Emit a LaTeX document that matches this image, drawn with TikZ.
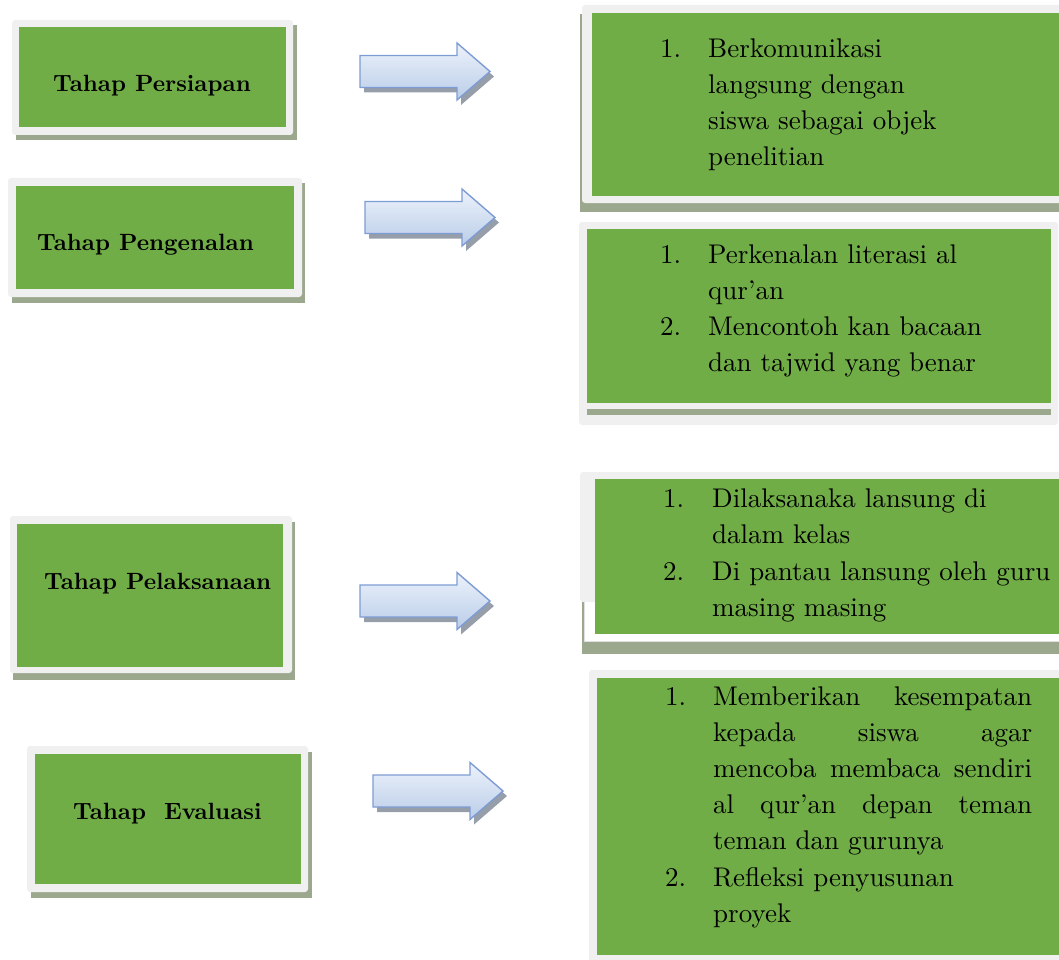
\documentclass[tikz,border=0pt]{standalone}
\usepackage{fontspec}
\setmainfont{lmroman10-regular.otf}[BoldFont=lmroman10-bold.otf]
\definecolor{boxgreen}{RGB}{112,173,71}
\definecolor{framegray}{RGB}{240,240,240}
\definecolor{shadowgreen}{RGB}{155,168,142}
\definecolor{arrowline}{RGB}{126,156,212}
\definecolor{arrowtop}{RGB}{236,242,251}
\definecolor{arrowbot}{RGB}{186,205,232}
\definecolor{arrowshadow}{RGB}{150,158,170}
\begin{document}
\begin{tikzpicture}[x=1pt,y=-1pt,
  greenbox/.style={fill=boxgreen, draw=none, inner sep=0pt, outer sep=0pt, anchor=north west},
  framebox/.style={fill=framegray, rounded corners=3pt},
  shadebox/.style={fill=shadowgreen},
  title/.style={font=\fontsize{23.5}{28}\selectfont\bfseries, anchor=base west, inner sep=0pt},
  body/.style={font=\fontsize{27}{36}\selectfont, anchor=base west, inner sep=0pt},
  blockarrow/.pic={
    \fill[arrowshadow, shift={(4,5)}] (0,-16) -- (97,-16) -- (97,-28.5) -- (130,0) -- (97,28.5) -- (97,16) -- (0,16) -- cycle;
    \draw[arrowline, line width=1.4pt, line join=miter, top color=arrowtop, bottom color=arrowbot]
      (0,-16) -- (97,-16) -- (97,-28.5) -- (130,0) -- (97,28.5) -- (97,16) -- (0,16) -- cycle;
  }
]
\useasboundingbox (0,0) rectangle (1059,960);
\begin{scope}
\clip (0,0) rectangle (1059,960);

% ---------- left boxes ----------
\fill[shadebox] (16,25) rectangle (297,140);
\fill[framebox] (12,20) rectangle (293,135);
\node[greenbox, minimum width=267pt, minimum height=100pt] (g1) at (19,27) {};
\node[title] (t1) at (53,92) {Tahap Persiapan};

\fill[shadebox] (12,183) rectangle (305,303);
\fill[framebox] (8,178) rectangle (302,297);
\node[greenbox, minimum width=278pt, minimum height=103pt] (g2) at (16,186) {};
\node[title] (t2) at (37,250) {Tahap Pengenalan};

\fill[shadebox] (13,522) rectangle (295,680);
\fill[framebox] (10,516) rectangle (292,673);
\node[greenbox, minimum width=266pt, minimum height=143pt] (g3) at (17,524) {};
\node[title] (t3) at (44,589) {Tahap Pelaksanaan};

\fill[shadebox] (31,752) rectangle (312,898);
\fill[framebox] (27,746) rectangle (308,892);
\node[greenbox, minimum width=266pt, minimum height=130pt] (g4) at (35,754) {};
\node[title] (t4) at (73,819) {Tahap~\ Evaluasi};

% ---------- arrows ----------
\pic (a1) at (360,71.5) {blockarrow};
\pic (a2) at (365,217.5) {blockarrow};
\pic (a3) at (360,601) {blockarrow};
\pic (a4) at (373,791) {blockarrow};

% ---------- right boxes ----------
\fill[shadebox] (580,14) rectangle (1070,212);
\fill[framebox] (582,5) rectangle (1070,203);
\node[greenbox, minimum width=480pt, minimum height=183pt] (r1) at (592,13) {};
\node[body] (r1t) at (660,58) {\begin{tabular}[t]{@{}l@{}}
\makebox[48pt][l]{1.}Berkomunikasi\\
\hspace*{48pt}langsung dengan\\
\hspace*{48pt}siswa sebagai objek\\
\hspace*{48pt}penelitian
\end{tabular}};

\fill[framebox] (579,222) rectangle (1058,425);
\node[greenbox, minimum width=464pt, minimum height=174pt] (r2) at (587,229) {};
\fill[shadebox] (587,409) rectangle (1051,415);
\node[body] (r2t) at (660,263) {\begin{tabular}[t]{@{}l@{}}
\makebox[48pt][l]{1.}Perkenalan literasi al\\
\hspace*{48pt}qur’an\\
\makebox[48pt][l]{2.}Mencontoh kan bacaan\\
\hspace*{48pt}dan tajwid yang benar
\end{tabular}};

\fill[shadebox] (582,560) rectangle (1070,654);
\filldraw[fill=white, draw=black!12] (584,560) rectangle (1070,641);
\fill[framebox] (580,472) rectangle (1070,602);
\node[greenbox, minimum width=475pt, minimum height=155pt] (r3) at (595,479) {};
\node[body, font=\fontsize{27}{36.6}\selectfont] (r3t) at (663,507) {\begin{tabular}[t]{@{}l@{}}
\makebox[49pt][l]{1.}Dilaksanaka lansung di\\
\hspace*{49pt}dalam kelas\\
\makebox[49pt][l]{2.}Di pantau lansung oleh guru\\
\hspace*{49pt}masing masing
\end{tabular}};

\fill[framebox] (589,670) rectangle (1075,975);
\node[greenbox, minimum width=480pt, minimum height=277pt] (r4) at (597,678) {};
\node[body, font=\fontsize{27}{36.2}\selectfont] (r4t) at (665,705) {\begin{tabular}[t]{@{}l@{}}
\makebox[48pt][l]{1.}\makebox[319pt][s]{Memberikan kesempatan}\\
\hspace*{48pt}\makebox[319pt][s]{kepada siswa agar}\\
\hspace*{48pt}\makebox[319pt][s]{mencoba membaca sendiri}\\
\hspace*{48pt}\makebox[319pt][s]{al qur’an depan teman}\\
\hspace*{48pt}teman dan gurunya\\
\makebox[48pt][l]{2.}Refleksi penyusunan\\
\hspace*{48pt}proyek
\end{tabular}};
\end{scope}
\end{tikzpicture}
\end{document}
